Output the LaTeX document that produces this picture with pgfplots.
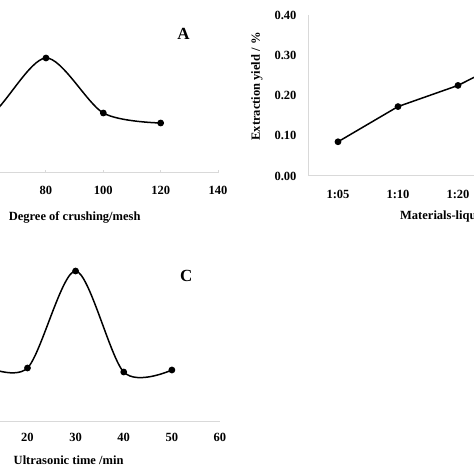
\documentclass[border=0pt]{standalone}
\usepackage{pgfplots}
\pgfplotsset{compat=1.18}
\usepackage{fontspec}
\setmainfont{Liberation Serif}
\definecolor{axgray}{HTML}{D9D9D9}
\pgfplotsset{
  panel/.style={
    scale only axis, anchor=south west,
    axis x line*=bottom, axis y line*=left,
    axis line style={axgray, line width=1pt, -},
    every tick/.style={axgray, line width=1pt},
    major tick length=0pt,
    /pgf/number format/assume math mode=true,
    ticklabel style={font=\bfseries\fontsize{12.5}{14}\selectfont, text=black},
    label style={font=\bfseries\fontsize{12.5}{14}\selectfont},
    xticklabel style={yshift=-8pt},
    yticklabel style={xshift=-8pt},
    clip=false,
  },
  curve/.style={black, line width=1.5pt, mark=*, mark size=2.6pt, mark options={solid, fill=black}},
}
\begin{document}
\begin{tikzpicture}
\useasboundingbox (0pt,0pt) rectangle (474pt,474pt);
\clip (0pt,0pt) rectangle (474pt,474pt);
% Panel A (its left part lies outside the cropped view)
\begin{axis}[panel, at={(-68.7pt,301pt)}, width=286.7pt, height=160pt,
  xmin=40, xmax=140, ymin=0, ymax=0.40, xtick={80,100,120,140},
  ytick=\empty,
  major tick length=3pt, tick align=inside, xtick pos=bottom, ytick pos=left,
  xticklabel style={yshift=-2pt},
  xlabel={Degree of crushing/mesh},
  xlabel style={at={(axis description cs:0.5,0)}, anchor=center, yshift=-44pt}]
\addplot[curve, smooth] coordinates {(40,0.11) (60,0.14) (80,0.2875) (100,0.15) (120,0.125)};
\node[font=\bfseries\fontsize{17}{19}\selectfont] at (rel axis cs:0.88,0.87) {A};
\end{axis}
% Panel B (its right part lies outside the cropped view)
\begin{axis}[panel, at={(308pt,298pt)}, width=300pt, height=161pt,
  xmin=-0.5, xmax=4.5, ymin=0, ymax=0.40, xtick={0,1,2},
  xticklabels={1:05,1:10,1:20},
  xticklabel style={yshift=-3pt},
  ytick={0,0.1,0.2,0.3,0.4},
  yticklabel style={/pgf/number format/.cd, fixed, fixed zerofill, precision=2},
  xlabel={Materials-liquid ratio},
  xlabel style={at={(axis description cs:0.5,0)}, anchor=center, yshift=-40pt},
  ylabel={Extraction yield / \%},
  ylabel style={at={(axis description cs:-0.17,0.556)}, anchor=center}]
\addplot[curve] coordinates {(0,0.085) (1,0.1725) (2,0.225) (3,0.30) (4,0.33)};
\end{axis}
% Panel C (its left part lies outside the cropped view)
\begin{axis}[panel, at={(-68.8pt,52pt)}, width=288.8pt, height=160pt,
  xmin=0, xmax=60, ymin=0, ymax=0.40, xtick={20,30,...,60},
  ytick=\empty,
  xlabel={Ultrasonic time /min},
  xlabel style={at={(axis description cs:0.5,0)}, anchor=center, yshift=-38pt, xshift=-7pt}]
\addplot[curve, smooth] coordinates {(10,0.145) (20,0.135) (30,0.3775) (40,0.125) (50,0.13)};
\node[font=\bfseries\fontsize{17}{19}\selectfont] at (axis cs:53,0.365) {C};
\end{axis}
\end{tikzpicture}
\end{document}
